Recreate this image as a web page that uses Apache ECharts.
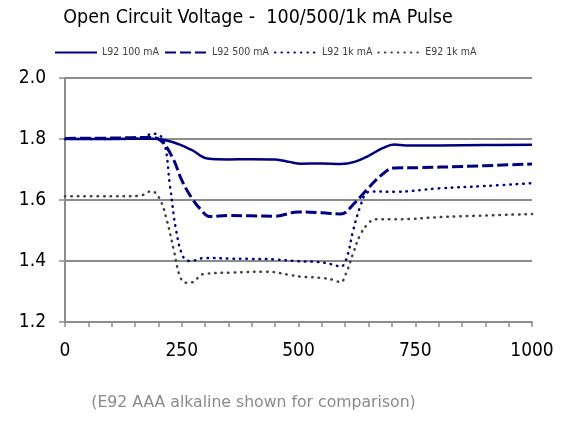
<!DOCTYPE html>
<html><head><meta charset="utf-8">
<script src="https://cdn.jsdelivr.net/npm/echarts@6/dist/echarts.min.js"></script>
<style>html,body{margin:0;padding:0;background:#fff}#c{width:563px;height:428px}</style>
</head><body><div id="c"></div>
<script>
var seriesNames = ['L92 100 mA', 'L92 500 mA', 'L92 1k mA', 'E92 1k mA'];
var xTickLabels = ['0', '250', '500', '750', '1000'];
var yTickLabels = ['1.2', '1.4', '1.6', '1.8', '2.0'];

var l92_100_x = [0, 100, 190, 230, 270, 305, 350, 400, 450, 480, 505, 550, 590, 620, 650, 680, 705, 730, 800, 900, 1000];
var l92_100_y = [1.800, 1.800, 1.801, 1.790, 1.765, 1.736, 1.733, 1.734, 1.733, 1.725, 1.719, 1.720, 1.718, 1.725, 1.745, 1.770, 1.782, 1.779, 1.779, 1.780, 1.781];

var l92_500_x = [0, 100, 180, 205, 230, 250, 270, 290, 310, 350, 400, 450, 500, 550, 590, 620, 650, 680, 705, 760, 850, 1000];
var l92_500_y = [1.802, 1.803, 1.805, 1.795, 1.740, 1.665, 1.610, 1.570, 1.546, 1.549, 1.548, 1.547, 1.561, 1.558, 1.554, 1.590, 1.640, 1.685, 1.705, 1.706, 1.710, 1.718];

var l92_1k_x = [0, 100, 165, 188, 210, 225, 238, 253, 268, 300, 350, 400, 450, 500, 540, 575, 590, 603, 617, 632, 645, 660, 705, 800, 900, 1000];
var l92_1k_y = [1.800, 1.800, 1.803, 1.818, 1.798, 1.644, 1.500, 1.414, 1.400, 1.410, 1.408, 1.407, 1.405, 1.399, 1.397, 1.388, 1.381, 1.409, 1.500, 1.578, 1.622, 1.628, 1.627, 1.638, 1.646, 1.655];

var e92_1k_x = [0, 100, 160, 185, 203, 218, 233, 246, 258, 272, 296, 360, 432, 482, 503, 546, 575, 590, 602, 617, 632, 650, 665, 705, 820, 1000];
var e92_1k_y = [1.612, 1.612, 1.614, 1.629, 1.603, 1.534, 1.436, 1.350, 1.329, 1.330, 1.357, 1.362, 1.365, 1.354, 1.349, 1.345, 1.338, 1.330, 1.360, 1.425, 1.485, 1.524, 1.537, 1.537, 1.545, 1.554];

function pairs(xs, ys) { return xs.map(function (x, i) { return [x, ys[i]]; }); }

var FONT = "'DejaVu Sans Condensed', 'DejaVu Sans', sans-serif";
var FONT2 = "'DejaVu Sans', sans-serif";
var chart = echarts.init(document.getElementById('c'), null, {renderer: 'canvas'});
var navy = '#000080';
var gridGrey = '#8c8c8c';

chart.setOption({
  animation: false,
  backgroundColor: '#ffffff',
  title: [
    {text: 'Open Circuit Voltage -  100/500/1k mA Pulse', left: 253, top: 3, textAlign: 'center',
     textStyle: {fontFamily: FONT, fontSize: 19.5, fontWeight: 'normal', color: '#000'}},
    {text: '(E92 AAA alkaline shown for comparison)', left: 248.5, top: 390, textAlign: 'center',
     textStyle: {fontFamily: FONT2, fontSize: 15.7, fontWeight: 'normal', color: '#8a8a8a'}}
  ],
  legend: {
    data: seriesNames, left: 49, top: 42, itemWidth: 42, itemHeight: 10, itemGap: 5,
    itemStyle: {opacity: 0},
    textStyle: {fontFamily: FONT, fontSize: 10.5, color: '#404040'}
  },
  grid: {left: 65, right: 31, top: 78, bottom: 106, containLabel: false},
  xAxis: {
    type: 'value', min: 0, max: 1000, interval: 250,
    axisLine: {show: true, lineStyle: {color: gridGrey, width: 2}},
    axisTick: {show: true, length: 5, lineStyle: {color: gridGrey, width: 1.5}},
    minorTick: {show: true, splitNumber: 5, length: 5, lineStyle: {color: gridGrey, width: 1.5}},
    splitLine: {show: false},
    axisLabel: {margin: 20, fontFamily: FONT, fontSize: 19, color: '#000',
      formatter: function (v) { return xTickLabels[Math.round(v / 250)]; }}
  },
  yAxis: {
    type: 'value', min: 1.2, max: 2.0, interval: 0.2,
    axisLine: {show: true, lineStyle: {color: gridGrey, width: 2}},
    axisTick: {show: true, length: 6, lineStyle: {color: gridGrey, width: 1.5}},
    splitLine: {show: true, lineStyle: {color: gridGrey, width: 2}},
    axisLabel: {margin: 19, fontFamily: FONT, fontSize: 19, color: '#000',
      formatter: function (v) { return yTickLabels[Math.round((v - 1.2) / 0.2)]; }}
  },
  series: [
    {name: seriesNames[0], type: 'line', data: pairs(l92_100_x, l92_100_y), smooth: 0.4, showSymbol: false, symbol: 'none',
     color: navy, lineStyle: {color: navy, width: 2.5}},
    {name: seriesNames[1], type: 'line', data: pairs(l92_500_x, l92_500_y), smooth: 0.4, showSymbol: false, symbol: 'none',
     color: navy, lineStyle: {color: navy, width: 3, type: [11, 4]}},
    {name: seriesNames[2], type: 'line', data: pairs(l92_1k_x, l92_1k_y), smooth: 0.4, showSymbol: false, symbol: 'none',
     color: navy, lineStyle: {color: navy, width: 2.5, type: [0.5, 6], cap: 'round'}},
    {name: seriesNames[3], type: 'line', data: pairs(e92_1k_x, e92_1k_y), smooth: 0.4, showSymbol: false, symbol: 'none',
     color: '#404040', lineStyle: {color: '#404040', width: 2.5, type: [0.5, 6], cap: 'round'}}
  ]
});
</script></body></html>
